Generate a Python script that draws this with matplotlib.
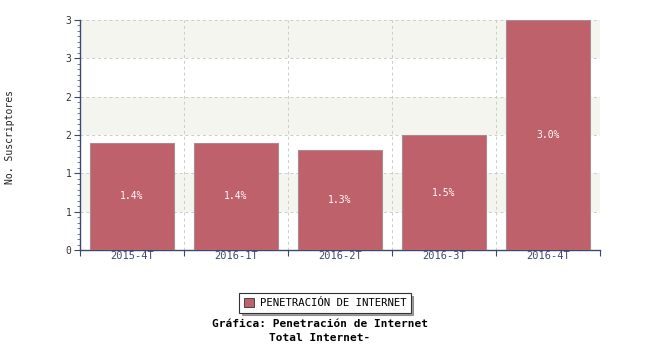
import numpy as np
import matplotlib
matplotlib.use('Agg')
import matplotlib.pyplot as plt
from matplotlib.ticker import FixedLocator, FuncFormatter, MultipleLocator

# datos
periodos = ['2015-4T', '2016-1T', '2016-2T', '2016-3T', '2016-4T']
penetracion = [1.4, 1.4, 1.3, 1.5, 3.0]
etiquetas = ['1.4%', '1.4%', '1.3%', '1.5%', '3.0%']

eje = '#3b4870'
rojo = '#be616b'

fig = plt.figure(figsize=(6.5, 3.5), dpi=100)
ax = fig.add_axes([80/650, 1 - 250/350, 520/650, 230/350])

x = np.arange(len(periodos))
ax.set_xlim(-0.5, len(periodos) - 0.5)
ax.set_ylim(0, 3)

# bandas alternas
for y0 in [0.5, 1.5, 2.5]:
    ax.axhspan(y0, y0 + 0.5, color='#f5f5f0', zorder=0, lw=0)

ax.bar(x, penetracion, width=0.81, color=rojo, edgecolor='#a88a90', linewidth=0.8, zorder=3)
for xi, v, t in zip(x, penetracion, etiquetas):
    ax.text(xi, v / 2, t, ha='center', va='center', color='white',
            fontsize=7, family='DejaVu Sans Mono', zorder=4)

ax.yaxis.set_major_locator(MultipleLocator(0.5))
ax.yaxis.set_major_formatter(FuncFormatter(lambda v, p: '%d' % int(v + 0.5)))
ax.yaxis.set_minor_locator(MultipleLocator(0.5 / 7))
ax.set_xticks(x)
ax.set_xticklabels(periodos)
ax.xaxis.set_minor_locator(FixedLocator(np.arange(-0.5, len(periodos), 1)))

ax.grid(True, which='major', axis='y', ls=(0, (3, 3)), color='#cccccc', lw=0.7, zorder=1)
for b in np.arange(0.5, len(periodos), 1):
    ax.axvline(b, ls=(0, (3, 3)), color='#cccccc', lw=0.7, zorder=1)
ax.axvline(len(periodos) - 0.5, ls=(0, (3, 3)), color='#cccccc', lw=0.7, zorder=1)

for s in ['top', 'right']:
    ax.spines[s].set_visible(False)
for s in ['left', 'bottom']:
    ax.spines[s].set_color(eje)
    ax.spines[s].set_linewidth(1.0)

ax.tick_params(axis='y', which='major', length=4, width=0.8, color=eje, labelsize=7, labelcolor='#333333', pad=2)
ax.tick_params(axis='y', which='minor', length=2, width=0.5, color=eje)
ax.tick_params(axis='x', which='major', length=0, labelsize=7.5, labelcolor=eje, pad=1)
ax.tick_params(axis='x', which='minor', length=4, width=0.8, color=eje, direction='out')
for lab in ax.get_xticklabels() + ax.get_yticklabels():
    lab.set_family('DejaVu Sans Mono')

fig.text(10/650, 1 - 137/350, 'No. Suscriptores', rotation=90, ha='center', va='center',
         fontsize=7, family='DejaVu Sans Mono', color='#222222')

# leyenda
leg = fig.legend([plt.Rectangle((0, 0), 1, 1, fc=rojo, ec='#333333', lw=0.6)],
                 ['PENETRACIÓN DE INTERNET'], loc='center', bbox_to_anchor=(325/650, 1 - 303/350),
                 frameon=True, fancybox=False, shadow=True, prop={'family': 'DejaVu Sans Mono', 'size': 7.7},
                 handlelength=1.0, handleheight=1.0, borderpad=0.4, handletextpad=0.5)
leg.get_frame().set_edgecolor('#333333')
leg.get_frame().set_linewidth(0.8)

fig.text(320/650, 1 - 324/350, 'Gráfica: Penetración de Internet', ha='center', va='center',
         fontsize=8, fontweight='bold', family='DejaVu Sans Mono')
fig.text(320/650, 1 - 338/350, 'Total Internet-', ha='center', va='center',
         fontsize=8, fontweight='bold', family='DejaVu Sans Mono')

fig.savefig('out.png', dpi=100)
